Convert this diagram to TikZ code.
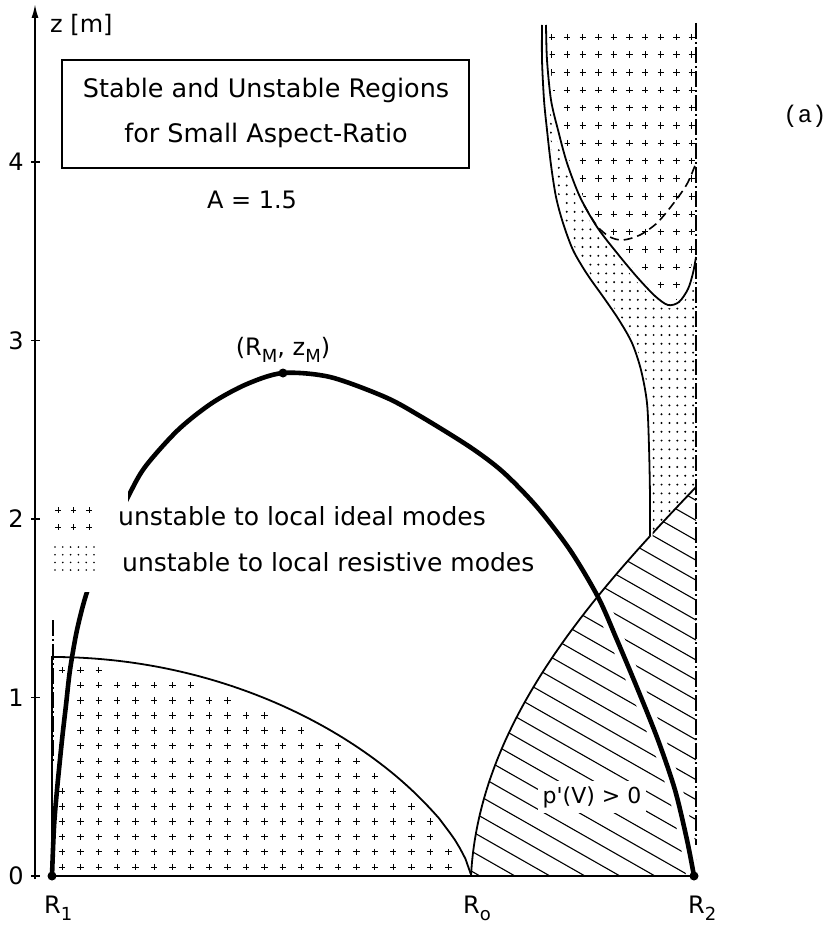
\documentclass[tikz,border=0pt]{standalone}
\usepackage{fontspec}
\setmainfont{DejaVu Sans}
\newfontfamily\monof{Liberation Mono}
\usetikzlibrary{arrows.meta}
\begin{document}
\begin{tikzpicture}[x=1pt,y=-1pt,
  lbl/.style={font=\fontsize{24}{28}\selectfont, inner sep=0pt},
  ttl/.style={font=\fontsize{25.5}{30}\selectfont, inner sep=0pt},
  leg/.style={font=\fontsize{25}{30}\selectfont, inner sep=0pt},
  thickc/.style={line width=4.6pt},
  bnd/.style={line width=1.8pt},
  hatchl/.style={line width=1.1pt},
  dashdotl/.style={line width=1.6pt, dash pattern=on 16pt off 3pt on 2pt off 3pt},
  pl/.style={line width=0.9pt}]
\useasboundingbox (0,0) rectangle (833,928);
\def\Tcurve{plot[smooth] coordinates {(52,876) (54,827) (57,790) (62,740) (66,705) (70,670) (77,630) (87,592) (105,545) (128,497) (145,467) (178,430) (212,403) (247,384) (283,373) (330,377) (385,397) (420,416) (470,447) (503,472) (537,507) (570,550) (598,597) (617,640) (638,690) (658,740) (675,790) (687,840) (694,876)}}
\def\Hcurve{(471,876) .. controls (479,720) and (596,592) .. (696,487)}
\def\Ocurve{plot[smooth] coordinates {(542,25) (542,60) (544,100) (547,130) (551,165) (556,197) (563,223) (573,250) (587,274) (604,298) (619,320) (632,343) (641,370) (647,403) (649,447) (650,497) (650,536)}}
\def\Icurve{plot[smooth] coordinates {(546,25) (547,60) (551,100) (558,130) (567,163) (580,197) (597,227) (617,253) (637,277) (655,296) (668,305) (679,302) (688,289) (693,273) (696,257)}}
\def\Dcurve{plot[smooth] coordinates {(584,205) (597,226) (610,237) (623,240) (640,235) (657,223) (673,204) (687,184) (696,163)}}

% ---------- lower-left plus region ----------
\foreach \k in {0,...,22}{
  \foreach \j in {0,...,13}{
    \pgfmathsetmacro\px{62+18.4*\k}
    \pgfmathsetmacro\py{867-15.15*\j}
    \pgfmathsetmacro\tq{(\px-52)/419}
    \pgfmathsetmacro\hb{219*pow(max(1-\tq*\tq,0.00001),0.7)-10}
    \pgfmathsetmacro\xt{52+(0.02098*(876-\py))^2}
    \pgfmathtruncatemacro\ok{and((876-\py) <= \hb, abs(\px-\xt) > 6.5)}
    \ifnum\ok=1 \draw[pl] (\px-3.2,\py) -- (\px+3.2,\py) (\px,\py-3.2) -- (\px,\py+3.2); \fi
  }}
\draw[bnd] (52,876) -- (52,657) -- plot[domain=0:1,samples=80] ({52+419*\x},{876-219*pow(max(1-\x*\x,0.00001),0.7)});

% ---------- hatched region ----------
\begin{scope}
  \clip \Hcurve -- (696,876) -- cycle;
  \foreach \c in {480,515,...,1400} \draw[hatchl] (\c,876) -- (\c-800,876-456);
  \draw[white, line width=15pt] \Tcurve;
  \node[fill=white, inner sep=5pt, font=\fontsize{22}{26}\selectfont] (pv) at (592,797) {p\textquotesingle(V) > 0};
\end{scope}
\draw[bnd] \Hcurve;

% ---------- upper-right regions ----------
\begin{scope}
  \clip \Ocurve -- (696,487) -- (696,20) -- (542,20) -- cycle;
  \foreach \i in {0,...,20}{
    \foreach \j in {0,...,58}{
      \fill (543+7.9*\i,27+8.8*\j) circle (1.1pt);
    }}
\end{scope}
\begin{scope}
  \clip \Icurve -- (696,20) -- (546,20) -- cycle;
  \fill[white] (540,0) rectangle (700,320);
  \foreach \k in {0,...,9}{
    \foreach \j in {0,...,15}{
      \draw[pl] (551.5+15.6*\k-3.2,37+17.7*\j) -- (551.5+15.6*\k+3.2,37+17.7*\j)
                (551.5+15.6*\k,37+17.7*\j-3.2) -- (551.5+15.6*\k,37+17.7*\j+3.2);
    }}
\end{scope}
\draw[white, line width=6pt] \Icurve;
\draw[white, line width=5pt] \Ocurve;
\draw[bnd] \Ocurve;
\draw[bnd] \Icurve;
\draw[line width=1.6pt, dash pattern=on 9pt off 5pt] \Dcurve;

% ---------- thick curve ----------
\begin{scope}
  \clip (0,592) rectangle (128,928) (128,0) rectangle (833,928);
  \draw[thickc] \Tcurve;
\end{scope}
\fill (283,373) circle (4.5pt);
\fill (52,876) circle (4.5pt);
\fill (694,876) circle (4.5pt);

% ---------- baseline, dash-dot lines, axis ----------
\draw[bnd] (52,876) -- (694,876);
\draw[dashdotl] (53,620) -- (53,763);
\draw[dashdotl] (696,23) -- (696,845);
\draw[line width=1.8pt, -{Latex[length=14pt,width=7pt]}] (35,879) -- (35,4);
\foreach \z/\yy in {0/876,1/697.5,2/519,3/340.5,4/162}{
  \draw[line width=1.4pt] (31,\yy) -- (40,\yy);
  \node[lbl] (t\z) at (16,\yy) {\z};
}

% ---------- texts ----------
\node[lbl, anchor=base west] (zm) at (50,33) {z [m]};
\draw[line width=1.3pt] (62,60) rectangle (469,168);
\node[ttl, anchor=base] (title1) at (266,98) {Stable and Unstable Regions};
\node[ttl, anchor=base] (title2) at (266,143) {for Small Aspect-Ratio};
\node[lbl, anchor=base] (aval) at (252,208) {A = 1.5};
\node[font=\monof\fontsize{24}{28}\selectfont, inner sep=0pt] (lab) at (805,116) {(a)};
\node[lbl, anchor=base] (rm) at (283,355) {(R\raisebox{-0.3em}{\fontsize{18}{20}\selectfont M}, z\raisebox{-0.3em}{\fontsize{18}{20}\selectfont M})};
\node[lbl, anchor=base west] (r1) at (44,913) {R\raisebox{-0.3em}{\fontsize{18}{20}\selectfont 1}};
\node[lbl, anchor=base west] (r0) at (463,913) {R\raisebox{-0.3em}{\fontsize{18}{20}\selectfont o}};
\node[lbl, anchor=base west] (r2) at (688,913) {R\raisebox{-0.3em}{\fontsize{18}{20}\selectfont 2}};

% ---------- legend ----------
\foreach \xx in {58,73.5,89}{
  \foreach \yy in {510,527}{
    \draw[line width=0.8pt] (\xx-2.8,\yy) -- (\xx+2.8,\yy) (\xx,\yy-2.8) -- (\xx,\yy+2.8);
  }}
\foreach \xx in {55,62.8,70.6,78.4,86.2,94}{
  \foreach \yy in {547,554.7,562.4,570}{
    \fill (\xx,\yy) circle (0.9pt);
  }}
\node[leg, anchor=base west] (leg1) at (118,525) {unstable to local ideal modes};
\node[leg, anchor=base west] (leg2) at (122,571) {unstable to local resistive modes};
\end{tikzpicture}
\end{document}
